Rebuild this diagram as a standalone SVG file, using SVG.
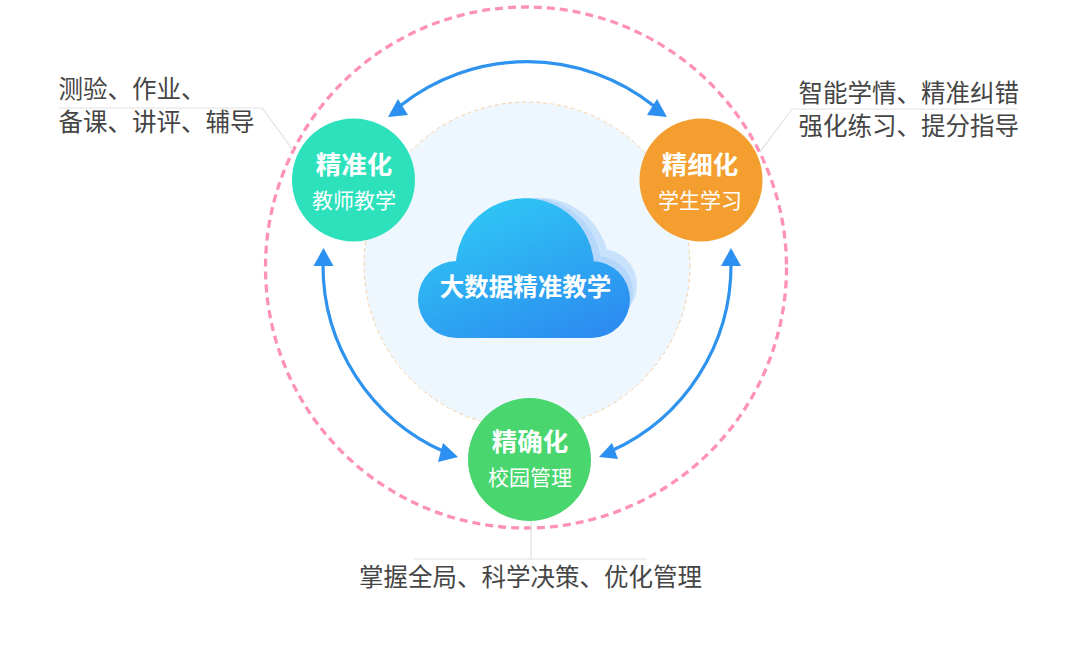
<svg xmlns="http://www.w3.org/2000/svg" width="1083" height="646" viewBox="0 0 1083 646">
<style>
text{font-family:"Noto Sans CJK SC","Noto Sans",sans-serif}
.cap{font-size:24.5px;fill:#454545;font-weight:400}
.t{font-size:25.5px;font-weight:700;fill:#fff;text-anchor:middle}
.s{font-size:21px;font-weight:400;fill:#fff;text-anchor:middle}
.lead{fill:none;stroke:#e2e2e2;stroke-width:1.2}
.arc{fill:none;stroke:#2e93ee;stroke-width:3.2}
.head{fill:#2b90f0}
</style>
<defs>
<linearGradient id="cloudGrad" x1="0.2" y1="0.05" x2="0.8" y2="1">
<stop offset="0" stop-color="#2fc8f5"/><stop offset="1" stop-color="#2c8cf0"/>
</linearGradient>
</defs>
<rect width="1083" height="646" fill="#fff"/>
<g id="rings">
<circle cx="526" cy="267.5" r="260.5" fill="none" stroke="#fd92b4" stroke-width="3.3" stroke-dasharray="8 5"/>
<circle cx="527" cy="265" r="163" fill="#eef7fe" stroke="#f8cfa4" stroke-width="1" stroke-dasharray="4 3"/>
</g>
<g id="connectors">
<path class="lead" d="M59 108H262L293 150"/>
<path class="lead" d="M760 152L792 109H1018"/>
<path class="lead" d="M531 521V559M413 559H647"/>
<path class="arc" d="M400 106A204 204 0 0 1 654 106"/>
<path class="arc" d="M323 264A204 204 0 0 0 445 452"/>
<path class="arc" d="M731 264A204 204 0 0 1 611 451"/>
<polygon class="head" points="388,117 398,99 408,115"/>
<polygon class="head" points="667,117 657,99 647,115"/>
<polygon class="head" points="323.5,248 313.5,266 333.5,266"/>
<polygon class="head" points="731,248 721,266 741,266"/>
<polygon class="head" points="458,457 443,443 438,462"/>
<polygon class="head" points="599,457 612,443 618,459"/>
</g>
<g id="cloud">
<g fill="#c9e2fc">
<circle cx="540" cy="267" r="69"/><circle cx="601" cy="285" r="36"/>
</g>
<g fill="#b5d7fb">
<circle cx="532" cy="267" r="69"/><circle cx="597" cy="292" r="36"/>
</g>
<path fill="url(#cloudGrad)" d="M456.5 261A38.5 38.5 0 0 0 456.5 338H591.5A38.5 38.5 0 0 0 591.5 261H593.7A69.15 69.15 0 0 0 456 261Z"/>
<text x="525.5" y="296" font-size="24.5" font-weight="700" fill="#fff" text-anchor="middle">大数据精准教学</text>
</g>
<g id="node-teacher">
<circle cx="353.5" cy="180" r="61.5" fill="#2de1bd"/>
<text class="t" x="354" y="174">精准化</text>
<text class="s" x="354" y="208">教师教学</text>
</g>
<g id="node-student">
<circle cx="701" cy="180" r="61.5" fill="#f39e2e"/>
<text class="t" x="700" y="174">精细化</text>
<text class="s" x="700" y="208">学生学习</text>
</g>
<g id="node-campus">
<circle cx="529.5" cy="459.5" r="61.5" fill="#49d66f"/>
<text class="t" x="530" y="451">精确化</text>
<text class="s" x="530" y="485">校园管理</text>
</g>
<g id="captions">
<text class="cap" x="58.5" y="98">测验、作业、</text>
<text class="cap" x="58.5" y="131">备课、讲评、辅导</text>
<text class="cap" x="798.5" y="102">智能学情、精准纠错</text>
<text class="cap" x="798.5" y="135">强化练习、提分指导</text>
<text class="cap" x="359" y="586">掌握全局、科学决策、优化管理</text>
</g>
</svg>
